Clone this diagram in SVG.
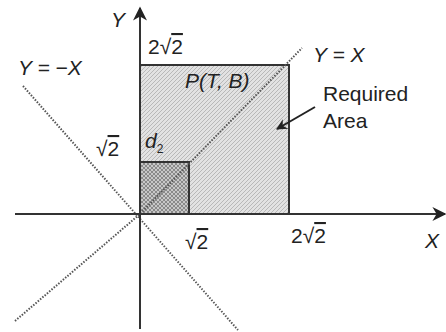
<svg xmlns="http://www.w3.org/2000/svg" width="446" height="332" viewBox="0 0 446 332">
<style>
.lbl{font-family:"Liberation Sans",Arial,sans-serif;font-size:21px;fill:#222}
.it{font-style:italic}
.dot{stroke:#555;stroke-width:2;stroke-dasharray:1.5 1.5;fill:none}
.axis{stroke:#333;stroke-width:2;fill:none}
.ov{text-decoration:overline}
</style>
<defs>
<pattern id="hatch" width="4" height="4" patternUnits="userSpaceOnUse">
<rect width="4" height="4" fill="#e2e2e2"/>
<path d="M0,4 L4,0" stroke="#b8b8b8" stroke-width="1"/>
</pattern>
<pattern id="hatch2" width="4" height="4" patternUnits="userSpaceOnUse">
<rect width="4" height="4" fill="#c8c8c8"/>
<path d="M0,4 L4,0 M0,0 L4,4" stroke="#7a7a7a" stroke-width="0.8"/>
</pattern>
<marker id="ah" viewBox="0 0 10 10" refX="9" refY="5" markerWidth="20" markerHeight="14" markerUnits="userSpaceOnUse" orient="auto">
<path d="M0,0 L10,5 L0,10 L3,5 Z" fill="#222"/>
</marker>
<marker id="ah2" viewBox="0 0 10 10" refX="9" refY="5" markerWidth="13" markerHeight="11" markerUnits="userSpaceOnUse" orient="auto">
<path d="M0,0 L10,5 L0,10 L3,5 Z" fill="#222"/>
</marker>
</defs>
<g id="required-area">
<rect x="140" y="65" width="149" height="149" fill="url(#hatch)" stroke="#333" stroke-width="2"/>
</g>
<g id="small-square">
<rect x="140" y="162" width="49" height="52" fill="url(#hatch2)" stroke="#333" stroke-width="2"/>
</g>
<g id="connectors">
<polyline class="dot" points="15,321 140,214 302,48"/>
<line class="dot" x1="23" y1="86" x2="238" y2="330"/>
<line class="axis" x1="15" y1="214" x2="445" y2="214" marker-end="url(#ah)"/>
<line class="axis" x1="140" y1="329" x2="140" y2="8" marker-end="url(#ah)"/>
<line x1="315" y1="107" x2="277" y2="129" stroke="#222" stroke-width="2" marker-end="url(#ah2)"/>
</g>
<g id="labels">
<text class="lbl it" x="111" y="27">Y</text>
<text class="lbl" x="148" y="54">2√<tspan class="ov">2</tspan></text>
<text class="lbl it" x="18" y="75">Y = −X</text>
<text class="lbl it" x="185" y="88">P(T, B)</text>
<text class="lbl it" x="313" y="62">Y = X</text>
<text class="lbl" x="323" y="101">Required</text>
<text class="lbl" x="323" y="128">Area</text>
<text class="lbl" x="96" y="156">√<tspan class="ov">2</tspan></text>
<text class="lbl it" x="145" y="148">d<tspan font-size="12" dy="5" font-style="normal">2</tspan></text>
<text class="lbl" x="185" y="249">√<tspan class="ov">2</tspan></text>
<text class="lbl" x="291" y="243">2√<tspan class="ov">2</tspan></text>
<text class="lbl it" x="425" y="248">X</text>
</g>
</svg>
